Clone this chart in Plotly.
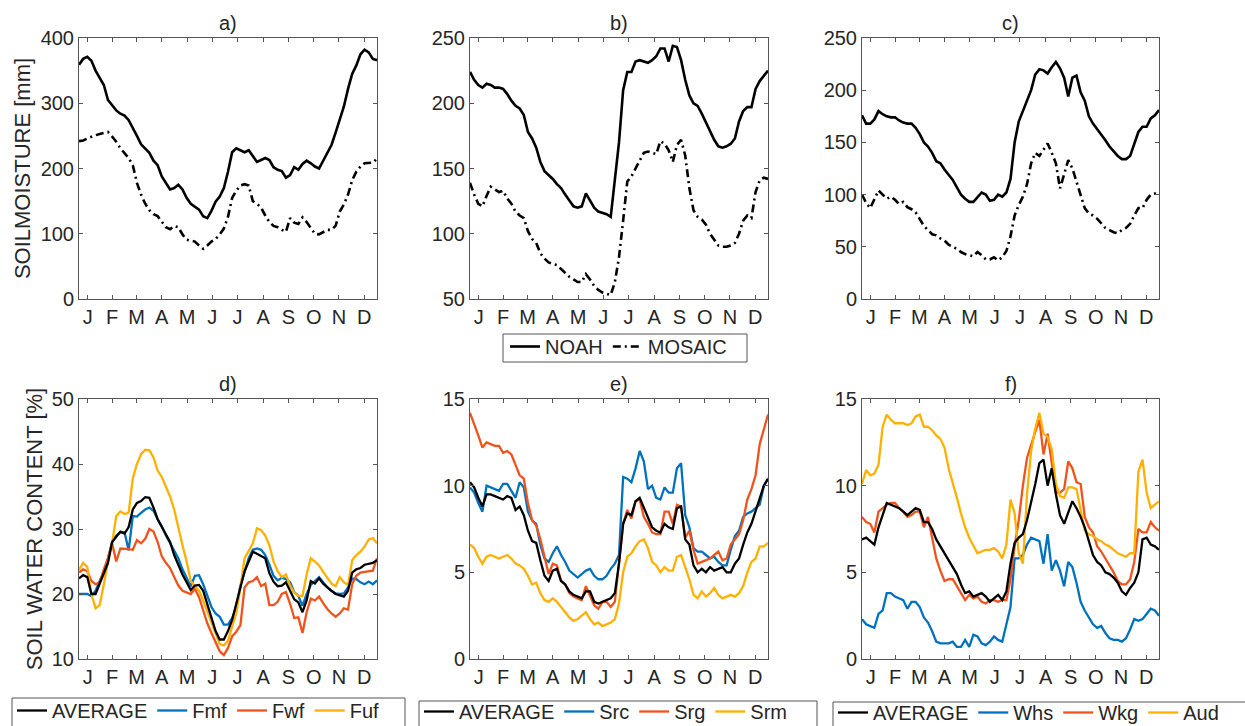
import numpy as np
import plotly.graph_objects as go

# Pentad index (73 five-day periods through the year)
pentad = list(range(1, 74))
months = ["J", "F", "M", "A", "M", "J", "J", "A", "S", "O", "N", "D"]
month_days = [31, 28, 31, 30, 31, 30, 31, 31, 30, 31, 30, 31]

# ---- Soil moisture [mm], NOAH vs MOSAIC ----
noah_a = [359, 368, 371, 365, 350, 338, 328, 305, 297, 289, 284, 281, 274, 263, 250, 237, 230, 224, 212, 205,
          188, 178, 168, 170, 175, 168, 155, 146, 141, 137, 127, 124, 135, 149, 157, 170, 195, 225, 231, 228,
          225, 228, 218, 210, 213, 216, 213, 202, 198, 196, 186, 190, 202, 198, 207, 212, 208, 203, 200, 212,
          224, 236, 255, 275, 295, 322, 345, 358, 375, 382, 378, 368, 366]
mosaic_a = [242, 243, 246, 249, 251, 253, 254, 256, 249, 241, 231, 224, 216, 205, 178, 160, 146, 136, 130, 127,
            119, 110, 107, 112, 110, 99, 91, 90, 88, 82, 77, 82, 88, 92, 99, 108, 126, 155, 166, 174,
            176, 174, 150, 146, 140, 128, 118, 112, 110, 106, 103, 124, 117, 115, 125, 118, 108, 100, 99, 102,
            106, 106, 112, 134, 145, 160, 182, 195, 203, 208, 208, 209, 215]

noah_b = [224, 218, 214, 212, 215, 214, 212, 212, 211, 207, 202, 198, 196, 191, 178, 173, 166, 155, 148, 145,
          142, 138, 135, 130, 125, 121, 120, 121, 131, 126, 120, 117, 116, 115, 113, 140, 170, 210, 224, 224,
          232, 233, 232, 231, 233, 236, 242, 242, 232, 244, 243, 233, 218, 206, 200, 198, 192, 185, 178, 172,
          167, 166, 167, 169, 173, 186, 194, 197, 197, 211, 217, 221, 225]
mosaic_b = [139, 130, 123, 121, 129, 136, 134, 132, 133, 127, 123, 117, 114, 112, 102, 96, 93, 85, 81, 78,
            77, 76, 73, 70, 67, 65, 63, 63, 69, 65, 60, 57, 55, 54, 53, 63, 82, 110, 140, 144,
            150, 157, 162, 163, 162, 161, 171, 169, 164, 155, 168, 172, 160, 135, 118, 113, 111, 107, 100, 95,
            91, 90, 90, 91, 93, 100, 110, 114, 112, 132, 141, 143, 142]

noah_c = [176, 168, 168, 172, 180, 177, 175, 174, 174, 171, 169, 168, 168, 164, 158, 150, 146, 140, 132, 130,
          124, 119, 114, 107, 100, 96, 93, 93, 97, 102, 100, 94, 95, 100, 98, 102, 115, 150, 170, 180,
          190, 200, 215, 220, 219, 216, 222, 227, 221, 212, 194, 212, 214, 198, 190, 175, 168, 163, 158, 152,
          146, 141, 137, 134, 134, 137, 148, 160, 165, 165, 173, 176, 181]
mosaic_c = [100, 92, 87, 96, 104, 100, 96, 98, 95, 91, 93, 88, 86, 83, 77, 70, 66, 62, 61, 58,
            56, 52, 50, 48, 45, 43, 42, 41, 45, 42, 38, 38, 40, 37, 40, 46, 60, 80, 90, 98,
            110, 130, 140, 137, 143, 149, 140, 130, 106, 120, 133, 125, 112, 98, 87, 82, 80, 77, 72, 68,
            66, 64, 63, 66, 68, 72, 80, 87, 87, 95, 100, 101, 100]

# ---- Soil water content [%] ----
avg_d = [22.4, 22.9, 22.6, 20.0, 20.0, 21.5, 23.2, 24.8, 28.0, 28.8, 29.6, 29.3, 30.3, 33.0, 34.0, 34.3, 34.9, 34.8,
         33.3, 31.5, 30.3, 29.0, 28.0, 26.0, 24.5, 23.0, 21.8, 20.6, 21.3, 21.4, 20.5, 18.3, 16.2, 14.3, 13.0, 13.0,
         14.3, 16.0, 18.5, 21.2, 23.5, 25.0, 26.5, 26.2, 25.8, 25.5, 23.2, 21.9, 21.2, 21.3, 21.8, 20.4, 19.2, 18.7,
         17.2, 19.0, 22.0, 21.6, 22.4, 21.6, 21.0, 20.5, 20.0, 19.8, 19.6, 20.5, 23.3, 23.8, 24.0, 24.5, 24.6, 24.8, 25.2]
fmf = [20.0, 20.0, 20.0, 19.7, 20.5, 22.0, 23.3, 25.5, 28.0, 29.0, 29.5, 29.5, 26.7, 32.0, 31.9, 32.5, 33.0, 33.3,
       32.8, 31.5, 30.4, 29.0, 27.8, 26.6, 25.5, 23.8, 22.6, 21.2, 22.8, 22.9, 21.5, 19.8, 18.0, 17.0, 16.5, 15.3,
       15.3, 16.3, 18.0, 21.3, 23.5, 25.5, 26.8, 27.0, 26.8, 26.0, 24.5, 22.8, 22.1, 22.5, 22.3, 21.8, 20.3, 19.7,
       18.2, 20.0, 21.4, 22.0, 22.6, 21.8, 21.0, 20.5, 20.1, 20.0, 20.1, 21.0, 22.4, 22.3, 21.8, 21.5, 21.9, 21.5, 22.1]
fwf = [23.3, 23.8, 23.5, 22.0, 21.5, 21.8, 23.8, 25.5, 27.8, 25.0, 27.0, 27.0, 26.9, 26.8, 28.3, 27.8, 28.5, 30.0,
       29.6, 28.0, 25.8, 24.8, 24.0, 22.6, 21.3, 20.5, 20.2, 20.0, 20.8, 19.5, 17.5, 15.5, 14.0, 12.6, 11.2, 10.6,
       11.7, 13.5, 14.2, 15.2, 21.0, 21.8, 22.0, 22.6, 21.2, 21.6, 18.3, 18.3, 18.8, 20.0, 20.3, 18.5, 16.3, 16.4,
       14.0, 17.2, 19.3, 19.0, 19.6, 18.6, 17.7, 17.0, 16.5, 17.0, 17.8, 17.6, 21.5, 22.8, 23.3, 23.4, 23.5, 23.6, 25.5]
fuf = [23.7, 24.8, 24.2, 20.0, 17.8, 18.3, 21.5, 25.0, 27.8, 32.0, 32.7, 32.3, 32.5, 37.8, 40.0, 41.5, 42.2, 42.1,
       41.0, 39.0, 38.0, 36.5, 35.0, 33.0, 30.0, 27.5, 25.0, 22.0, 21.2, 20.5, 19.0, 17.3, 15.5, 13.8, 12.3, 12.1,
       12.8, 15.0, 17.0, 21.0, 25.5, 26.6, 27.8, 30.1, 29.8, 29.0, 27.5, 25.0, 23.5, 22.6, 23.0, 21.3, 20.2, 19.7,
       19.7, 23.0, 25.5, 25.0, 24.4, 23.4, 22.5, 21.6, 21.2, 22.6, 21.8, 21.4, 25.2, 26.0, 26.5, 27.3, 28.4, 28.6, 27.8]

avg_e = [10.2, 9.9, 9.3, 8.8, 9.5, 9.5, 9.4, 9.3, 9.2, 9.4, 9.3, 8.6, 8.8, 8.3, 7.4, 6.8, 6.7, 5.7, 4.8, 4.5,
         5.1, 5.2, 4.5, 4.3, 3.9, 3.7, 3.6, 3.5, 3.9, 3.9, 3.3, 3.2, 3.3, 3.4, 3.5, 3.8, 5.5, 7.8, 8.4, 8.3,
         9.1, 9.3, 8.7, 8.1, 7.6, 7.4, 7.3, 7.8, 7.6, 7.5, 8.7, 8.8, 6.9, 6.6, 5.4, 5.0, 5.2, 5.0, 5.3, 5.1,
         5.2, 5.3, 5.0, 5.0, 5.5, 5.8, 6.6, 7.3, 7.8, 8.5, 9.3, 10.0, 10.4]
src = [9.9, 9.6, 9.0, 8.5, 10.0, 9.9, 9.8, 9.7, 10.1, 10.1, 9.7, 9.3, 10.2, 9.9, 8.5, 8.0, 7.8, 6.6, 5.8, 5.6,
       6.1, 6.5, 6.0, 5.6, 5.1, 4.9, 4.7, 4.9, 5.1, 5.2, 4.8, 4.6, 4.6, 4.8, 5.2, 5.5, 6.0, 10.5, 10.4, 10.2,
       11.0, 12.0, 11.4, 9.8, 10.0, 9.3, 9.2, 9.9, 9.6, 9.6, 11.0, 11.3, 8.3, 7.6, 6.4, 6.2, 6.2, 6.0, 5.8, 5.9,
       5.6, 5.4, 5.4, 6.3, 7.1, 7.4, 8.2, 8.4, 8.5, 8.7, 8.9, 10.0, 10.4]
srg = [14.2, 13.6, 12.9, 12.2, 12.5, 12.4, 12.3, 12.3, 11.9, 12.0, 11.8, 11.2, 10.6, 10.4, 9.0, 8.0, 7.7, 6.9, 5.9, 4.9,
       5.5, 5.4, 4.5, 4.3, 3.8, 3.6, 3.5, 3.4, 4.2, 3.7, 3.1, 2.9, 3.3, 3.3, 3.0, 3.3, 5.5, 7.8, 8.6, 8.1,
       9.1, 9.2, 8.2, 7.8, 7.3, 7.2, 7.2, 8.5, 8.5, 7.8, 8.9, 8.8, 7.0, 7.4, 6.3, 5.5, 5.6, 5.7, 5.8, 6.0,
       6.2, 5.7, 5.8, 6.6, 6.9, 7.2, 8.0, 9.2, 9.8, 10.6, 12.4, 13.2, 14.1]
srm = [6.6, 6.4, 5.9, 5.5, 5.9, 6.0, 5.9, 5.8, 5.9, 6.0, 5.8, 5.5, 5.4, 5.2, 4.8, 4.3, 4.4, 3.8, 3.4, 3.3,
       3.5, 3.3, 3.0, 2.7, 2.4, 2.2, 2.3, 2.5, 2.7, 2.3, 2.0, 2.1, 1.9, 2.0, 2.1, 2.3, 3.2, 5.0, 5.9, 6.1,
       6.5, 6.8, 6.9, 6.4, 5.6, 5.4, 5.0, 5.3, 5.1, 5.1, 5.9, 6.0, 5.3, 4.6, 3.7, 3.5, 3.9, 3.6, 3.8, 4.1,
       3.7, 3.5, 3.6, 3.7, 3.6, 3.8, 4.2, 5.0, 5.6, 5.8, 6.5, 6.5, 6.7]

avg_f = [6.9, 7.0, 6.8, 6.6, 7.6, 8.3, 9.0, 8.9, 8.8, 8.7, 8.5, 8.3, 8.5, 8.7, 8.6, 7.9, 7.9, 7.5, 6.9, 6.5,
         6.1, 5.7, 5.3, 4.9, 4.3, 3.8, 3.9, 3.6, 3.7, 3.8, 3.6, 3.3, 3.5, 3.7, 3.4, 3.9, 5.5, 6.7, 7.0, 7.2,
         8.0, 9.0, 10.1, 11.3, 11.5, 10.0, 11.0, 9.5, 8.3, 7.8, 8.5, 9.1, 8.7, 8.2, 7.6, 6.8, 6.0, 5.6, 5.4, 5.0,
         4.9, 4.7, 4.4, 3.9, 3.7, 4.1, 4.4, 5.0, 6.9, 7.0, 6.6, 6.5, 6.3]
whs = [2.3, 2.0, 1.9, 1.8, 2.6, 2.8, 3.8, 3.8, 3.6, 3.5, 3.4, 2.9, 3.3, 3.3, 3.0, 2.4, 2.1, 1.6, 1.0, 0.9,
       0.9, 0.9, 1.0, 0.7, 0.7, 1.1, 0.7, 1.4, 1.3, 0.9, 0.8, 1.0, 1.3, 1.1, 1.0, 2.0, 3.0, 5.8, 5.8, 6.0,
       6.6, 7.0, 6.9, 6.8, 5.5, 7.2, 5.1, 5.7, 5.1, 4.2, 5.6, 5.3, 4.4, 3.3, 2.8, 2.4, 2.0, 1.8, 1.9, 1.5,
       1.2, 1.1, 1.1, 1.0, 1.2, 1.7, 2.3, 2.2, 2.3, 2.6, 2.9, 2.8, 2.5]
wkg = [8.2, 7.9, 7.8, 7.3, 8.5, 8.7, 8.9, 9.0, 9.0, 8.7, 8.5, 8.2, 8.3, 8.5, 8.5, 7.6, 8.2, 7.0, 5.8, 5.1,
       4.5, 4.6, 4.6, 4.2, 3.8, 3.4, 3.7, 3.5, 3.6, 3.3, 3.2, 3.4, 3.4, 3.3, 3.4, 3.4, 4.6, 6.5, 8.0, 10.0,
       11.6, 12.4, 13.1, 13.8, 11.8, 13.0, 11.3, 9.6, 9.6, 9.8, 11.4, 11.0, 10.2, 10.1, 8.2, 7.6, 7.3, 6.5, 6.2, 5.8,
       5.4, 5.0, 4.5, 4.3, 4.3, 4.6, 5.6, 7.5, 7.3, 7.3, 7.9, 7.6, 7.4]
aud = [10.1, 10.9, 10.6, 10.7, 11.2, 13.4, 14.1, 13.8, 13.6, 13.6, 13.6, 13.5, 13.6, 14.0, 14.1, 13.4, 13.4, 13.2, 12.9, 12.7,
       12.2, 11.0, 10.2, 9.3, 8.4, 7.6, 7.0, 6.5, 6.1, 6.2, 6.3, 6.3, 6.4, 6.2, 5.8, 6.6, 9.2, 8.4, 6.1, 5.5,
       9.5, 12.0, 13.3, 14.2, 13.0, 12.8, 12.1, 10.1, 9.4, 9.3, 9.9, 9.9, 9.8, 8.6, 7.4, 7.2, 7.1, 6.9, 6.8, 6.6,
       6.5, 6.3, 6.1, 6.0, 5.9, 6.1, 6.1, 10.8, 11.5, 9.6, 8.7, 8.9, 9.1]

# Month labels sit at mid-month, expressed in pentads
mid_days = np.cumsum(month_days) - np.array(month_days) / 2.0
month_ticks = list(mid_days / 5.0)

BLUE = "#0072BD"
ORANGE = "#F0531C"
YELLOW = "#FFB000"
BLACK = "#000000"
AXIS = "#555555"
TEXT = "#262626"
FONT = "Liberation Sans, Arial, Helvetica, sans-serif"

W, H = 1245, 726


def xdom(l, r):
    return [l / W, r / W]


def ydom(t, b):
    return [1 - b / H, 1 - t / H]


col_px = [(79, 377), (470, 768), (862, 1159)]
row_px = [(38, 299), (399, 659)]

fig = go.Figure()

panels = [
    # (row, col, title, yrange, ytickvals, series, legend)
    (0, 0, "a)", [0, 400], [0, 100, 200, 300, 400],
     [("NOAH", noah_a, BLACK, "solid"), ("MOSAIC", mosaic_a, BLACK, "dashdot")], None),
    (0, 1, "b)", [50, 250], [50, 100, 150, 200, 250],
     [("NOAH", noah_b, BLACK, "solid"), ("MOSAIC", mosaic_b, BLACK, "dashdot")], "legend"),
    (0, 2, "c)", [0, 250], [0, 50, 100, 150, 200, 250],
     [("NOAH", noah_c, BLACK, "solid"), ("MOSAIC", mosaic_c, BLACK, "dashdot")], None),
    (1, 0, "d)", [10, 50], [10, 20, 30, 40, 50],
     [("Fmf", fmf, BLUE, "solid"), ("Fwf", fwf, ORANGE, "solid"), ("Fuf", fuf, YELLOW, "solid"),
      ("AVERAGE", avg_d, BLACK, "solid")], "legend2"),
    (1, 1, "e)", [0, 15], [0, 5, 10, 15],
     [("Src", src, BLUE, "solid"), ("Srg", srg, ORANGE, "solid"), ("Srm", srm, YELLOW, "solid"),
      ("AVERAGE", avg_e, BLACK, "solid")], "legend3"),
    (1, 2, "f)", [0, 15], [0, 5, 10, 15],
     [("Whs", whs, BLUE, "solid"), ("Wkg", wkg, ORANGE, "solid"), ("Aud", aud, YELLOW, "solid"),
      ("AVERAGE", avg_f, BLACK, "solid")], "legend4"),
]

legend_order = {"AVERAGE": 0}
annotations = []

for i, (row, col, title, yr, ytv, series, leg) in enumerate(panels):
    n = i + 1
    xa = "x" if n == 1 else f"x{n}"
    ya = "y" if n == 1 else f"y{n}"
    xl = "xaxis" if n == 1 else f"xaxis{n}"
    yl = "yaxis" if n == 1 else f"yaxis{n}"
    lw = 2.6 if row == 0 else 2.3
    for k, (name, vals, color, dash) in enumerate(series):
        dash_style = "8px,4px,2px,4px" if dash == "dashdot" else "solid"
        rank = legend_order.get(name, k + 1)
        fig.add_trace(go.Scatter(
            x=pentad, y=vals, mode="lines", name=name,
            line=dict(color=color, width=lw, dash=dash_style),
            xaxis=xa, yaxis=ya,
            showlegend=leg is not None,
            legend=leg if leg else "legend",
            legendrank=rank + 1,
        ))
    l, r = col_px[col]
    t, b = row_px[row]
    common = dict(
        showline=True, linecolor=AXIS, linewidth=1, mirror="ticks",
        ticks="inside", ticklen=4, tickcolor=AXIS, tickwidth=1,
        showgrid=False, zeroline=False,
        tickfont=dict(family=FONT, size=20, color=TEXT),
    )
    fig.layout[xl] = dict(
        domain=xdom(l, r), range=[1, 73], anchor=ya,
        tickmode="array", tickvals=month_ticks, ticktext=months, **common,
    )
    ytitle = None
    if n == 1:
        ytitle = "SOILMOISTURE [mm]"
    elif n == 4:
        ytitle = "SOIL WATER CONTENT [%]"
    fig.layout[yl] = dict(
        domain=ydom(t, b), range=yr, anchor=xa,
        tickmode="array", tickvals=ytv,
        title=dict(text=ytitle, font=dict(family=FONT, size=22, color=TEXT), standoff=3) if ytitle else None,
        **common,
    )
    annotations.append(dict(
        text=title, xref="paper", yref="paper",
        x=(l + r) / 2 / W, y=1 - t / H, xanchor="center", yanchor="bottom", yshift=2,
        showarrow=False, font=dict(family=FONT, size=20, color=TEXT),
    ))

# Legend frames (left, top, right, bottom in pixels); lower frames run off the page edge
legend_frames = [(503, 334, 747, 362), (12, 698, 405, 740), (419, 701, 817, 740), (833, 702, 1260, 740)]
shapes = [
    dict(type="rect", xref="paper", yref="paper",
         x0=l / W, x1=r / W, y0=1 - b / H, y1=1 - t / H,
         line=dict(color=AXIS, width=1), fillcolor="white", layer="below")
    for (l, t, r, b) in legend_frames
]

legend_common = dict(
    orientation="h", xanchor="left", yanchor="top",
    bgcolor="rgba(0,0,0,0)", borderwidth=0,
    font=dict(family=FONT, size=20, color=TEXT),
    itemwidth=30, traceorder="normal",
)

fig.update_layout(
    width=W, height=H,
    margin=dict(l=0, r=0, t=0, b=0, autoexpand=False),
    paper_bgcolor="white", plot_bgcolor="white",
    font=dict(family=FONT, color=TEXT),
    annotations=annotations,
    shapes=shapes,
    legend=dict(x=505 / W, y=1 - 327 / H, **legend_common),
    legend2=dict(x=12 / W, y=1 - 691 / H, **legend_common),
    legend3=dict(x=419 / W, y=1 - 692 / H, **legend_common),
    legend4=dict(x=833 / W, y=1 - 693 / H, **legend_common),
)

fig.write_html("out.html")
